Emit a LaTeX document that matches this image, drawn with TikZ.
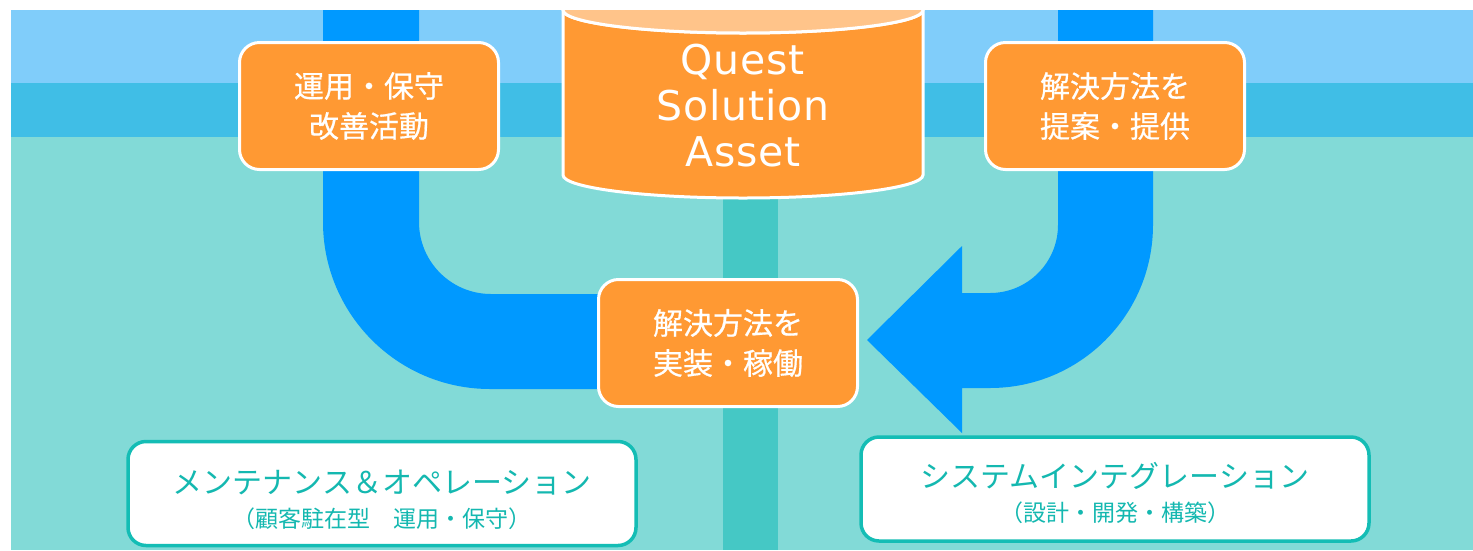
\documentclass[tikz,border=0pt]{standalone}
\usepackage{fontspec}
\setmainfont{Noto Sans CJK JP}
\newfontfamily\jpmed{Noto Sans CJK JP}[FakeBold=0.6]
\newfontfamily\latinq{DejaVu Sans}[LetterSpace=2]
\definecolor{bandA}{HTML}{80CDFA}
\definecolor{bandB}{HTML}{40BEE6}
\definecolor{bandC}{HTML}{82DAD7}
\definecolor{pipe}{HTML}{0099FF}
\definecolor{orng}{HTML}{FF9933}
\definecolor{orngL}{HTML}{FFC48A}
\definecolor{tealB}{HTML}{14BDB5}
\definecolor{tealT}{HTML}{14B8B0}
\definecolor{stripe}{HTML}{45C8C5}
\begin{document}
\begin{tikzpicture}[x=1pt,y=-1pt,
  obox/.style={rectangle, rounded corners=20pt, fill=orng, draw=white, line width=3pt,
    text=white, align=center, font=\jpmed\fontsize{30}{40}\selectfont,
    minimum width=259pt, minimum height=127pt, inner sep=0pt},
  tbox/.style={rectangle, rounded corners=18pt, fill=white, draw=tealB, line width=3.5pt,
    text=tealT, align=center, font=\fontsize{23}{34}\selectfont,
    minimum width=508pt, minimum height=104pt, inner sep=0pt},
  pipefill/.style={fill=pipe},
  cyl/.style={fill=orng, draw=white, line width=3pt},
  cylcap/.style={fill=orngL, draw=white, line width=3pt}]
\useasboundingbox (0,0) rectangle (1473,550);
\fill[white] (0,0) rectangle (1473,550);
\fill[bandA] (11,10) rectangle (1473,83);
\fill[bandB] (11,83) rectangle (1473,137);
\fill[bandC] (11,137) rectangle (1473,550);
\begin{scope}
\clip (11,10) rectangle (1473,550);
% center stripe
\fill[stripe] (723,180) rectangle (778,550);
% left pipe
\fill[pipefill] (323,0) -- (323,222) .. controls (323,314.2) and (397.8,389) .. (490,389)
  -- (620,389) -- (620,294) -- (491,294) .. controls (451.2,294) and (419,261.8) .. (419,222)
  -- (419,0) -- cycle;
% right pipe with arrow head
\fill[pipefill] (1058,0) -- (1058,225) .. controls (1058,262.6) and (1027.6,293) .. (990,293)
  -- (962,293) -- (962,246) -- (867,340) -- (962,433) -- (962,388) -- (990,388)
  .. controls (1080,388) and (1153,315) .. (1153,225) -- (1153,0) -- cycle;
% cylinder
\draw[cyl] (563,10) -- (563,175) .. controls (563,187.7) and (643.6,198) .. (743,198)
  .. controls (842.4,198) and (923,187.7) .. (923,175) -- (923,10)
  .. controls (923,22.7) and (842.4,33) .. (743,33) .. controls (643.6,33) and (563,22.7) .. (563,10) -- cycle;
\draw[cylcap] (743,10) ellipse [x radius=180, y radius=23];
\end{scope}
\node[text=white, align=center, font=\latinq\fontsize{41}{46}\selectfont] (qsa) at (743,106) {Quest\\Solution\\Asset};
\node[obox] (ops) at (369,106) {運用・保守\\改善活動};
\node[obox] (prop) at (1115,106) {解決方法を\\提案・提供};
\node[obox] (impl) at (728,343) {解決方法を\\実装・稼働};
\node[tbox] (mo) at (382,493.5) {{\fontsize{30}{34}\selectfont\rule{0pt}{36pt}メンテナンス＆オペレーション}\\（顧客駐在型　運用・保守）};
\node[tbox] (si) at (1115,489) {{\fontsize{30}{34}\selectfont\rule{0pt}{34pt}システムインテグレーション}\\（設計・開発・構築）};
\end{tikzpicture}
\end{document}
